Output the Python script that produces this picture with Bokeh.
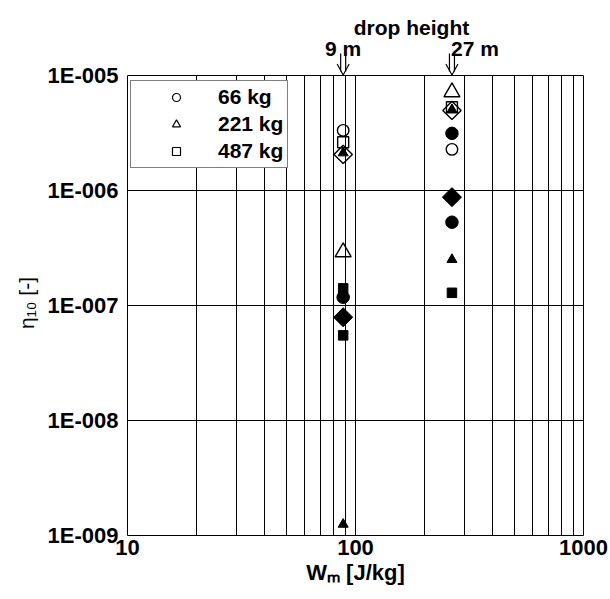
import math
from bokeh.plotting import figure
from bokeh.models import Range1d, FixedTicker, Legend, LegendItem, LogAxis
from bokeh.core.properties import value
from bokeh.embed import file_html
from bokeh.resources import INLINE

# ---------------- data ----------------
g = 9.81
drop_heights = [9, 27]                 # m
drop_labels = ["9 m", "27 m"]
W_drop = [g * h for h in drop_heights]  # J/kg

mass_labels = ["66 kg", "221 kg", "487 kg"]

# open symbols, one value per drop height (9 m, 27 m)
open_circle_eta = [3.33e-6, 2.28e-6]
open_triangle_eta = [2.91e-7, 7.16e-6]
open_square_eta = [2.63e-6, 5.3e-6]
open_diamond_eta = [2.06e-6, 4.97e-6]

# filled symbols: index of drop height and value
filled_circle_h = [0, 1, 1]
filled_circle_eta = [1.18e-7, 3.14e-6, 5.3e-7]
filled_triangle_h = [0, 0, 1, 1]
filled_triangle_eta = [2.12e-6, 1.25e-9, 5.05e-6, 2.51e-7]
filled_square_h = [0, 0, 1]
filled_square_eta = [1.41e-7, 5.5e-8, 1.29e-7]
filled_diamond_eta = [7.9e-8, 8.75e-7]

x_major = [10, 100, 1000]
x_major_labels = ["10", "100", "1000"]
x_grid = [20, 30, 40, 50, 60, 70, 80, 90, 100, 200, 300, 400, 500, 600, 700, 800, 900]
y_major = [1e-9, 1e-8, 1e-7, 1e-6, 1e-5]
y_major_labels = ["1E-009", "1E-008", "1E-007", "1E-006", "1E-005"]
y_box = (1e-9, 1e-5)

# ---------------- layout ----------------
WIDTH, HEIGHT = 610, 598
FL, FR = 127, 583      # plot box left / right (px)
BT, BB = 75, 535       # plot box top / bottom (px)
FW = FR - FL
DEC = (BB - BT) / 4    # px per decade in y
FONT = "Liberation Sans"
FS = "22px"


def xpix(xv):
    return FL + FW * (math.log10(xv) - 1) / 2


def xdata(px):
    return 10 ** (1 + 2 * (px - FL) / FW)


def ydata(py):
    return 10 ** (-5 - (py - BT) / DEC)


p = figure(width=WIDTH, height=HEIGHT, x_axis_type="log", y_axis_type="log",
           x_range=Range1d(10, 1000), y_range=Range1d(1e-9, ydata(0)),
           output_backend="svg", toolbar_location=None,
           min_border_left=FL, min_border_right=WIDTH - FR,
           min_border_top=0, min_border_bottom=HEIGHT - BB)
p.background_fill_color = "white"
p.border_fill_color = "white"
p.outline_line_color = None

p.xaxis.ticker = FixedTicker(ticks=x_major, minor_ticks=[])
p.xaxis.major_label_overrides = {v: s for v, s in zip(x_major, x_major_labels)}
p.yaxis.ticker = FixedTicker(ticks=y_major, minor_ticks=[])
p.yaxis.major_label_overrides = {v: s for v, s in zip(y_major, y_major_labels)}
p.yaxis.bounds = y_box
for ax in (p.xaxis[0], p.yaxis[0]):
    ax.major_tick_out = 0
    ax.major_tick_in = 0
    ax.minor_tick_out = 0
    ax.minor_tick_in = 0
    ax.axis_line_color = "black"
    ax.major_label_text_font = FONT
    ax.major_label_text_font_style = "bold"
    ax.major_label_text_font_size = FS
    ax.major_label_text_color = "black"
    ax.axis_label_text_font = FONT
    ax.axis_label_text_color = "black"
p.xaxis.major_label_standoff = 4
p.yaxis.major_label_standoff = 9
p.xaxis.axis_label = "W\u2098 [J/kg]"
p.xaxis.axis_label_text_font_style = "bold"
p.xaxis.axis_label_text_font_size = FS
p.xaxis.axis_label_standoff = 2
# padding keeps the title centred on the plot box rather than on the taller frame
p.yaxis.axis_label = "\u03b7\u2081\u2080 [-]" + "\u00a0" * 12
p.yaxis.axis_label_text_font_style = "normal"
p.yaxis.axis_label_text_font_size = "21px"
p.yaxis.axis_label_standoff = 7

right_axis = LogAxis(ticker=FixedTicker(ticks=[], minor_ticks=[]), bounds=y_box,
                     axis_line_color="black", major_tick_out=0, minor_tick_out=0,
                     major_label_text_font_size="0px")
p.add_layout(right_axis, "right")

p.xgrid.ticker = FixedTicker(ticks=x_grid, minor_ticks=[])
p.ygrid.ticker = FixedTicker(ticks=y_major, minor_ticks=[])
for gr in (p.xgrid[0], p.ygrid[0]):
    gr.grid_line_color = "black"
    gr.grid_line_width = 1
    gr.grid_line_alpha = 1
try:
    p.xgrid[0].cross_bounds = y_box
except Exception:
    pass

# blank band above the plot box (hides grid lines there)
p.quad(left=[xdata(FL - 5)], right=[xdata(FR + 5)], bottom=[ydata(BT - 1)], top=[ydata(-20)],
       fill_color="white", line_color=None)

# ---------------- markers ----------------
ow = 1.4
p.scatter([W_drop[0], W_drop[1]], open_circle_eta, marker="circle", size=11.5,
          fill_color=None, line_color="black", line_width=ow)
p.scatter([W_drop[0], W_drop[1]], open_triangle_eta, marker="triangle", size=16,
          fill_color=None, line_color="black", line_width=ow)
p.scatter([W_drop[0], W_drop[1]], open_square_eta, marker="square", size=11,
          fill_color=None, line_color="black", line_width=ow)
p.scatter([W_drop[0], W_drop[1]], open_diamond_eta, marker="square", size=13,
          angle=math.pi / 4, fill_color=None, line_color="black", line_width=ow)
p.scatter([W_drop[i] for i in filled_square_h], filled_square_eta, marker="square",
          size=9.5, fill_color="black", line_color="black")
p.scatter([W_drop[i] for i in filled_circle_h], filled_circle_eta, marker="circle",
          size=12.5, fill_color="black", line_color="black")
p.scatter([W_drop[i] for i in filled_triangle_h], filled_triangle_eta, marker="triangle",
          size=10, fill_color="black", line_color="black")
p.scatter([W_drop[0], W_drop[1]], filled_diamond_eta, marker="square", size=13.5,
          angle=math.pi / 4, fill_color="black", line_color="black")

# ---------------- drop height annotations ----------------
p.text(x=[xdata(411)], y=[ydata(27)], text=["drop height"], text_font=value(FONT),
       text_font_style="bold", text_font_size="21px", text_align="center",
       text_baseline="alphabetic", text_color="black")
p.text(x=[W_drop[0]], y=[ydata(48)], text=[drop_labels[0]], text_font=value(FONT),
       text_font_style="bold", text_font_size="21px", text_align="center",
       text_baseline="alphabetic", text_color="black")
p.text(x=[xdata(xpix(W_drop[1]) - 1)], y=[ydata(48)], text=[drop_labels[1]],
       text_font=value(FONT), text_font_style="bold", text_font_size="21px",
       text_align="left", text_baseline="alphabetic", text_color="black")

sx0, sx1, sy0, sy1 = [], [], [], []
hx, hy = [], []
for w in W_drop:
    px = xpix(w)
    for dx in (-2.5, 2.5):
        sx0.append(xdata(px + dx)); sx1.append(xdata(px + dx))
        sy0.append(ydata(53)); sy1.append(ydata(71))
    hx.append([xdata(px - 6), w, xdata(px + 6)])
    hy.append([ydata(63.5), ydata(BT - 0.5), ydata(63.5)])
p.segment(sx0, sy0, sx1, sy1, line_color="black", line_width=1.2)
p.multi_line(hx, hy, line_color="black", line_width=1.2)

# ---------------- legend (open symbols) ----------------
leg_markers = ["circle", "triangle", "square"]
leg_sizes = [8.5, 10, 9]
items = []
for lab, mk, sz in zip(mass_labels, leg_markers, leg_sizes):
    r = p.scatter([1.0], [1.0], marker=mk, size=sz, fill_color=None,
                  line_color="black", line_width=1.2)
    items.append(LegendItem(label=lab, renderers=[r]))
legend = Legend(items=items, location=(3, BB - 168), margin=0, padding=4,
                glyph_width=82, glyph_height=20, spacing=3, label_standoff=1,
                label_text_font=FONT, label_text_font_style="bold",
                label_text_font_size="21px", label_text_color="black",
                border_line_color="black", border_line_width=1,
                background_fill_color="white", background_fill_alpha=1)
p.add_layout(legend, "center")

open("out.html", "w").write(file_html(p, INLINE))
